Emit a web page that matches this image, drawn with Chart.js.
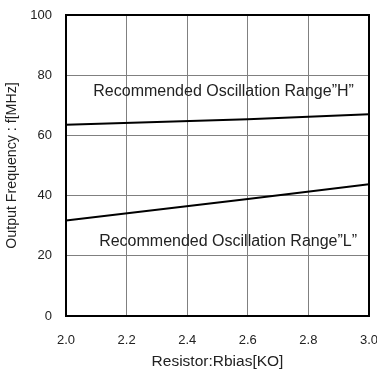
<!DOCTYPE html>
<html>
<head>
<meta charset="utf-8">
<script src="https://cdn.jsdelivr.net/npm/chart.js@4"></script>
<style>
  html, body { margin: 0; padding: 0; background: #fff; }
  #wrap { width: 377px; height: 374px; position: relative; }
</style>
</head>
<body>
<div id="wrap"><canvas id="chart"></canvas></div>
<script>
const rbias = [2.0, 2.6, 3.0];
const freqH = [63.5, 65.4, 67.0];
const freqL = [31.7, 38.9, 43.8];
const xTicks = [2.0, 2.2, 2.4, 2.6, 2.8, 3.0];
const yTicks = [0, 20, 40, 60, 80, 100];

const FONT = 'Liberation Sans, Arial, sans-serif';

// range captions drawn in data coordinates
const captions = {
    id: 'captions',
    afterDatasetsDraw(chart, args, opts){
        const ctx = chart.ctx;
        const xs = chart.scales.x, ys = chart.scales.y;
        ctx.save();
        ctx.font = '16px ' + FONT;
        ctx.fillStyle = '#222';
        ctx.textAlign = 'center';
        ctx.textBaseline = 'middle';
        opts.items.forEach(it => {
            ctx.fillText(it.text, xs.getPixelForValue(it.x), ys.getPixelForValue(it.y));
        });
        ctx.restore();
    }
};

function pts(xv, yv){
    return xv.map((x, i) => ({x: x, y: yv[i]}));
}

new Chart(document.getElementById('chart'), {
    type: 'line',
    data: {
        datasets: [{
            label: 'H',
            data: pts(rbias, freqH),
            borderColor: '#000',
            borderWidth: 2,
            pointRadius: 0,
            tension: 0
        }, {
            label: 'L',
            data: pts(rbias, freqL),
            borderColor: '#000',
            borderWidth: 2,
            pointRadius: 0,
            tension: 0
        }]
    },
    options: {
        responsive: true,
        maintainAspectRatio: false,
        animation: false,
        layout: { padding: { top: 15, right: 8, left: 4, bottom: 3 } },
        plugins: {
            legend: { display: false },
            tooltip: { enabled: false },
            captions: {
                items: [
                    { text: 'Recommended Oscillation Range\u201dH\u201d', x: 2.52, y: 74.5 },
                    { text: 'Recommended Oscillation Range\u201dL\u201d', x: 2.535, y: 24.8 }
                ]
            }
        },
        scales: {
            x: {
                type: 'linear',
                min: 2.0,
                max: 3.0,
                afterBuildTicks: s => { s.ticks = xTicks.map(v => ({value: v})); },
                afterFit: s => { s.paddingLeft = 0; s.paddingRight = 0; s.height = 55; },
                ticks: {
                    color: '#222',
                    font: { family: FONT, size: 13 },
                    padding: 17,
                    maxRotation: 0,
                    callback: v => v.toFixed(1)
                },
                grid: { color: '#808080', lineWidth: 1, drawTicks: false },
                border: { color: '#000', width: 2 },
                title: {
                    display: true,
                    text: 'Resistor:Rbias[KO]',
                    color: '#222',
                    font: { family: FONT, size: 15.5 },
                    padding: { top: 5, bottom: 0 }
                }
            },
            y: {
                min: 0,
                max: 100,
                afterBuildTicks: s => { s.ticks = yTicks.map(v => ({value: v})); },
                afterFit: s => { s.width = 62; s.paddingTop = 0; s.paddingBottom = 0; },
                ticks: {
                    color: '#222',
                    font: { family: FONT, size: 13 },
                    padding: 14
                },
                grid: { color: '#808080', lineWidth: 1, drawTicks: false },
                border: { color: '#000', width: 2 },
                title: {
                    display: true,
                    text: 'Output Frequency : f[MHz]',
                    color: '#222',
                    font: { family: FONT, size: 14.2 },
                    padding: 0
                }
            }
        }
    },
    plugins: [captions, {
        id: 'frame',
        afterDatasetsDraw(chart){
            const a = chart.chartArea, ctx = chart.ctx;
            ctx.save();
            ctx.strokeStyle = '#000';
            ctx.lineWidth = 2;
            ctx.strokeRect(a.left, a.top, a.right - a.left, a.bottom - a.top);
            ctx.restore();
        }
    }]
});
</script>
</body>
</html>
